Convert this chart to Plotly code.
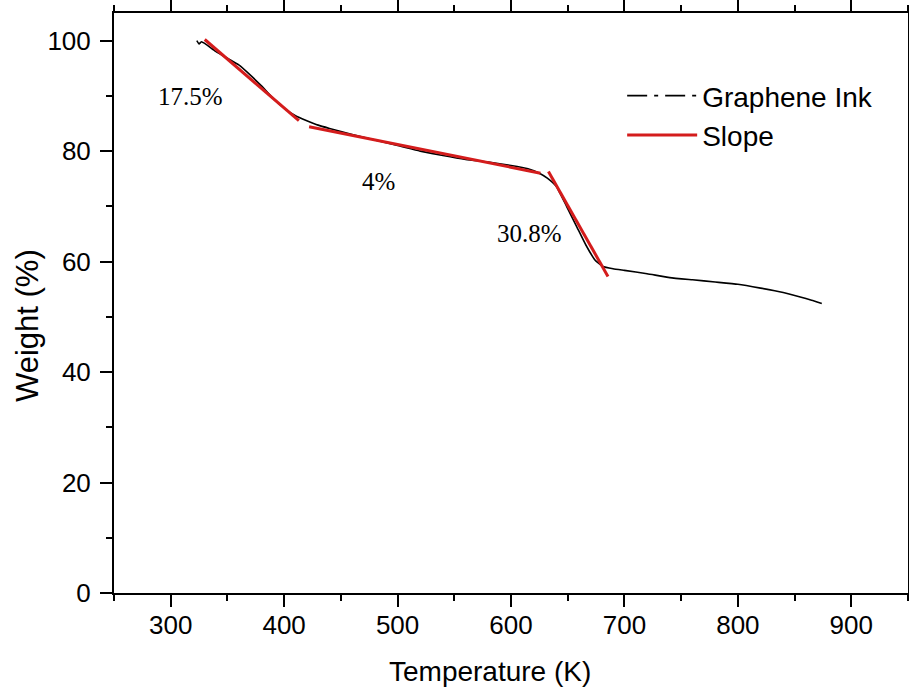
import plotly.graph_objects as go

# ---- data ----
temperature_k = [323, 325, 327, 330, 340, 350, 360, 370, 380, 390, 400, 410, 420, 430,
                 440, 460, 480, 500, 520, 540, 560, 580, 600, 615, 625, 632, 640, 649,
                 658, 666, 674, 681, 690, 700, 720, 740, 760, 780, 800, 820, 840, 855,
                 865, 874]
weight_pct = [100.0, 99.4, 99.8, 99.5, 98.0, 96.8, 95.6, 93.8, 91.8, 89.6, 87.8, 86.4,
              85.5, 84.7, 84.1, 83.0, 82.0, 81.0, 80.0, 79.2, 78.5, 78.0, 77.4, 76.8,
              76.0, 75.1, 73.6, 70.0, 66.3, 63.0, 60.3, 59.1, 58.7, 58.4, 57.8, 57.1,
              56.7, 56.3, 55.9, 55.2, 54.4, 53.6, 53.0, 52.4]

slope_t = [330, 413, None, 422, 626, None, 633, 685.5]
slope_w = [100.2, 85.5, None, 84.4, 76.0, None, 76.3, 57.3]

label_text = ["17.5%", "4%", "30.8%"]
label_t = [317, 483, 616.5]
label_w = [89.9, 74.5, 65.1]

x_range = [250, 950]
y_range = [0, 105]

BLACK = "#000000"
RED = "#d41c1c"
SANS = "Liberation Sans, Arial, sans-serif"
SERIF = "Liberation Serif, Times New Roman, serif"

fig = go.Figure()

fig.add_trace(go.Scatter(x=temperature_k, y=weight_pct, mode="lines",
                         line=dict(color=BLACK, width=1.6, shape="spline", smoothing=0.4),
                         name="Graphene Ink", showlegend=False))
# legend entry for the curve, dash-dot as in the reference legend
fig.add_trace(go.Scatter(x=[None], y=[None], mode="lines",
                         line=dict(color=BLACK, width=1.8, dash="20px,7px,4px,7px"),
                         name="Graphene Ink"))
fig.add_trace(go.Scatter(x=slope_t, y=slope_w, mode="lines",
                         line=dict(color=RED, width=3), name="Slope"))

for t, x, y in zip(label_text, label_t, label_w):
    fig.add_annotation(x=x, y=y, text=t, showarrow=False,
                       font=dict(family=SERIF, size=25, color=BLACK))

fig.add_annotation(xref="paper", yref="paper", x=0.4736, y=-0.136, text="Temperature (K)",
                   showarrow=False, xanchor="center", yanchor="middle",
                   font=dict(family=SANS, size=28, color=BLACK))
fig.add_annotation(xref="paper", yref="paper", x=-0.1096, y=0.462, text="Weight (%)",
                   showarrow=False, xanchor="center", yanchor="middle", textangle=-90,
                   font=dict(family=SANS, size=31, color=BLACK))

axis_common = dict(showgrid=False, zeroline=False, showline=True, linecolor=BLACK,
                   linewidth=2, tickcolor=BLACK, tickwidth=2, automargin=False,
                   mirror="allticks")

fig.update_layout(
    width=909, height=691,
    margin=dict(l=114, r=1, t=13, b=98),
    paper_bgcolor="white", plot_bgcolor="white",
    font=dict(family=SANS, color=BLACK),
    xaxis=dict(range=x_range, dtick=100, tick0=0, ticks="outside", ticklen=12,
               tickfont=dict(size=26, family=SANS), ticklabelstandoff=-4,
               minor=dict(dtick=50, ticks="outside", ticklen=6, tickcolor=BLACK, tickwidth=2),
               **axis_common),
    yaxis=dict(range=y_range, dtick=20, tick0=0, ticks="outside", ticklen=12,
               tickfont=dict(size=26, family=SANS), ticklabelstandoff=4,
               minor=dict(dtick=10, ticks="outside", ticklen=6, tickcolor=BLACK, tickwidth=2),
               **axis_common),
    legend=dict(x=0.64, y=0.9, xanchor="left", yanchor="top", bgcolor="rgba(0,0,0,0)",
                font=dict(size=28, family=SANS, color=BLACK), itemwidth=70,
                tracegroupgap=0),
    showlegend=True,
)

fig.write_html("out.html")
